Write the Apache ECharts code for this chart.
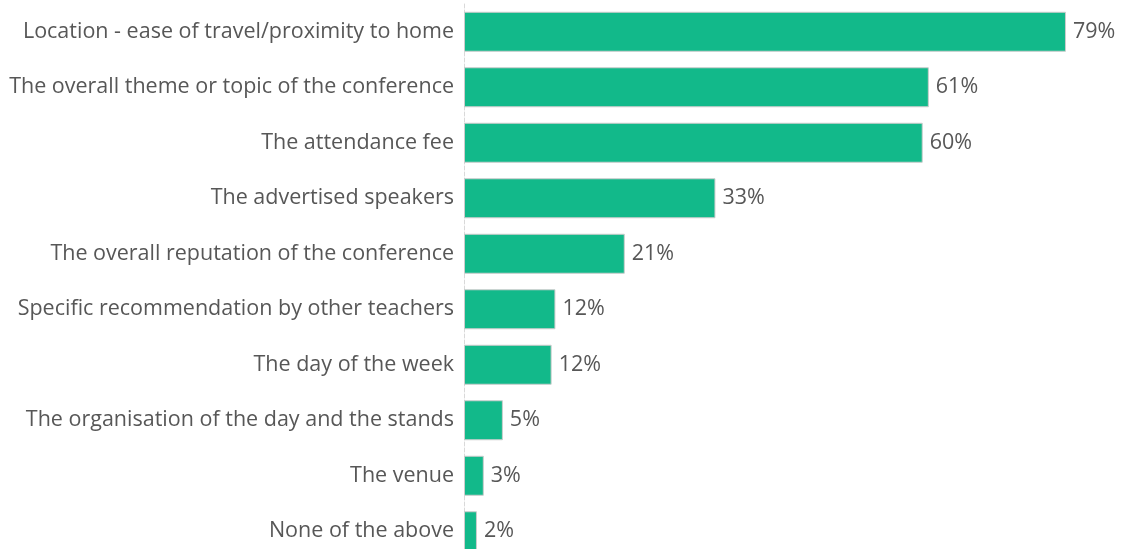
<!DOCTYPE html>
<html>
<head>
<meta charset="utf-8">
<script src="https://cdn.jsdelivr.net/npm/echarts@6/dist/echarts.min.js"></script>
<style>
  html, body { margin: 0; padding: 0; background: #fff; }
  #chart { width: 1121px; height: 549px; }
</style>
</head>
<body>
<div id="chart"></div>
<script>
// reasons for choosing a conference, share of respondents (%)
const categories = [
  'Location - ease of travel/proximity to home',
  'The overall theme or topic of the conference',
  'The attendance fee',
  'The advertised speakers',
  'The overall reputation of the conference',
  'Specific recommendation by other teachers',
  'The day of the week',
  'The organisation of the day and the stands',
  'The venue',
  'None of the above'
];
const values = [79, 61, 60.2, 33, 21.1, 12, 11.5, 5.1, 2.6, 1.7];

const chart = echarts.init(document.getElementById('chart'));

const textColor = '#575757';
const barColor = '#12b98a';
const font = 'Open Sans';

chart.setOption({
  backgroundColor: '#ffffff',
  animation: false,
  grid: {
    left: 464,
    top: 4,
    width: 762,
    bottom: -10,
    outerBoundsMode: 'none'
  },
  xAxis: {
    type: 'value',
    min: 0,
    max: 100,
    show: false
  },
  yAxis: {
    type: 'category',
    data: categories,
    inverse: true,
    axisTick: { show: false },
    axisLine: {
      show: true,
      lineStyle: { color: '#d9d9d9', type: 'dashed', width: 1 }
    },
    axisLabel: {
      color: textColor,
      fontFamily: font,
      fontSize: 21.5,
      margin: 10
    }
  },
  series: [{
    type: 'bar',
    data: values,
    barWidth: 40,
    itemStyle: {
      color: barColor,
      borderColor: '#cccccc',
      borderWidth: 1
    },
    label: {
      show: true,
      position: 'right',
      distance: 7,
      color: textColor,
      fontFamily: font,
      fontSize: 21.5,
      formatter: p => Math.round(p.value) + '%'
    }
  }]
});
</script>
</body>
</html>
